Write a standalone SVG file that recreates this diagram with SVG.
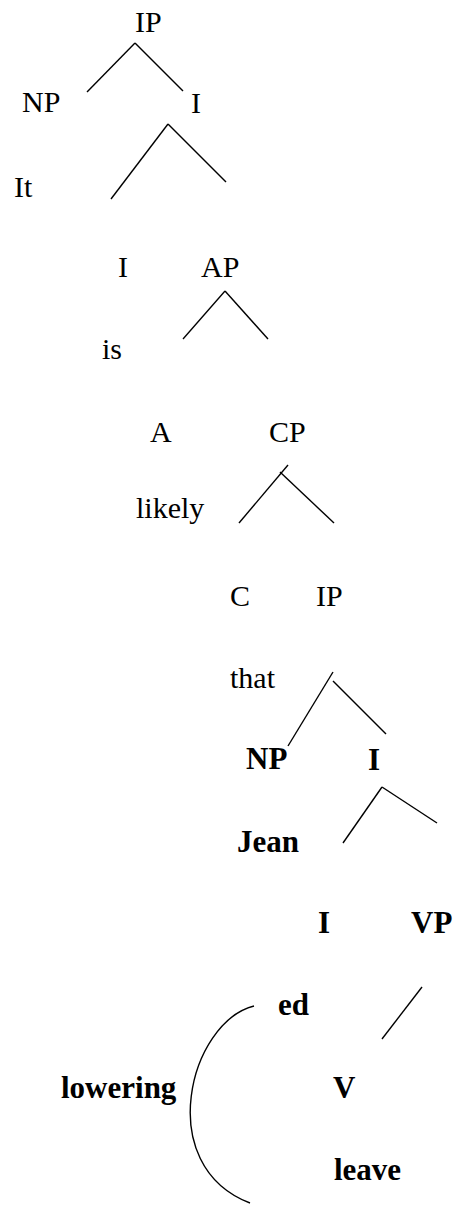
<svg xmlns="http://www.w3.org/2000/svg" width="453" height="1205" viewBox="0 0 453 1205">
  <style>
    text { font-family: 'Liberation Serif', 'DejaVu Serif', serif; font-size: 30px; fill: #000; }
    .b { font-weight: bold; font-size: 31px; }
    .edge { stroke: #000; stroke-width: 1.4; fill: none; stroke-linecap: butt; }
  </style>
  <rect width="453" height="1205" fill="#fff"/>

  <!-- tree branches -->
  <g id="connectors">
    <line class="edge" x1="135" y1="43" x2="87" y2="92"/>
    <line class="edge" x1="135" y1="43" x2="183" y2="91"/>
    <line class="edge" x1="168" y1="124" x2="111" y2="199"/>
    <line class="edge" x1="168" y1="124" x2="226" y2="182"/>
    <line class="edge" x1="225" y1="291" x2="183" y2="339"/>
    <line class="edge" x1="225" y1="291" x2="268" y2="339"/>
    <line class="edge" x1="288" y1="465" x2="239" y2="523"/>
    <line class="edge" x1="280" y1="472" x2="334" y2="523"/>
    <line class="edge" x1="333" y1="672" x2="288" y2="746"/>
    <line class="edge" x1="333" y1="681" x2="386" y2="734"/>
    <line class="edge" x1="382" y1="787" x2="343" y2="843"/>
    <line class="edge" x1="382" y1="787" x2="437" y2="823"/>
    <line class="edge" x1="422" y1="987" x2="382" y2="1039"/>
    <!-- lowering movement arc -->
    <path class="edge" d="M254,1006 C190,1022 152,1165 250,1203"/>
  </g>

  <g id="n-ip"><text x="135" y="32">IP</text></g>
  <g id="n-np"><text x="22" y="112">NP</text></g>
  <g id="n-ibar"><text x="191" y="113">I</text></g>
  <g id="n-it"><text x="14" y="197">It</text></g>
  <g id="n-i"><text x="118" y="277">I</text></g>
  <g id="n-ap"><text x="201" y="277">AP</text></g>
  <g id="n-is"><text x="102" y="359">is</text></g>
  <g id="n-a"><text x="150" y="442">A</text></g>
  <g id="n-cp"><text x="269" y="442">CP</text></g>
  <g id="n-likely"><text x="136" y="518">likely</text></g>
  <g id="n-c"><text x="230" y="606">C</text></g>
  <g id="n-ip2"><text x="316" y="606">IP</text></g>
  <g id="n-that"><text x="230" y="688">that</text></g>
  <g id="n-np2"><text class="b" x="246" y="769">NP</text></g>
  <g id="n-ibar2"><text class="b" x="368" y="770">I</text></g>
  <g id="n-jean"><text class="b" x="237" y="852">Jean</text></g>
  <g id="n-i2"><text class="b" x="318" y="933">I</text></g>
  <g id="n-vp"><text class="b" x="411" y="933">VP</text></g>
  <g id="n-ed"><text class="b" x="278" y="1015">ed</text></g>
  <g id="n-v"><text class="b" x="333" y="1098">V</text></g>
  <g id="n-lowering"><text class="b" x="61" y="1098">lowering</text></g>
  <g id="n-leave"><text class="b" x="334" y="1180">leave</text></g>
</svg>
